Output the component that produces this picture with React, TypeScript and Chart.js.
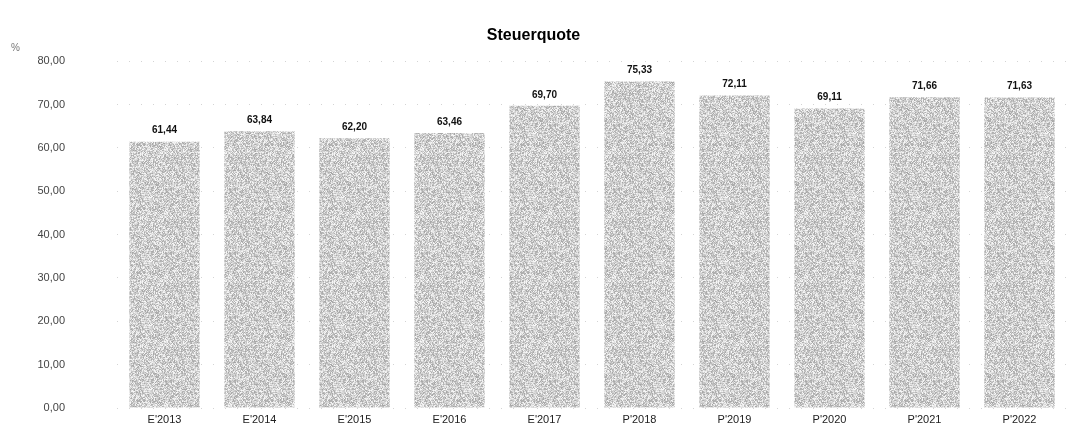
import { useEffect, useRef } from "react";
import { Chart, registerables } from "chart.js";

Chart.register(...registerables);

const years = ["E'2013", "E'2014", "E'2015", "E'2016", "E'2017", "P'2018", "P'2019", "P'2020", "P'2021", "P'2022"];
const quote = [61.44, 63.84, 62.2, 63.46, 69.7, 75.33, 72.11, 69.11, 71.66, 71.63];

const FONT = "Arial, 'Liberation Sans', sans-serif";
const fmt = (v: number) => v.toFixed(2).replace(".", ",");

// grainy grey fill like the scanned original (deterministic hash, not data)
function makeGrain(): CanvasPattern | string {
  const c = document.createElement("canvas");
  c.width = 64;
  c.height = 64;
  const g = c.getContext("2d");
  if (!g) return "#c2c2c2";
  const img = g.createImageData(64, 64);
  for (let i = 0; i < 64 * 64; i++) {
    let h = (i * 2654435761) >>> 0;
    h ^= h >>> 15;
    h = Math.imul(h, 2246822519) >>> 0;
    h ^= h >>> 13;
    const t = (h & 255) / 255;
    const v = Math.round(165 + t * 85);
    img.data[i * 4] = v;
    img.data[i * 4 + 1] = v;
    img.data[i * 4 + 2] = v;
    img.data[i * 4 + 3] = 255;
  }
  g.putImageData(img, 0, 0);
  return g.createPattern(c, "repeat") ?? "#c2c2c2";
}

const barLabels = {
  id: "barLabels",
  afterDatasetsDraw(chart: Chart) {
    const ctx = chart.ctx;
    const meta = chart.getDatasetMeta(0);
    ctx.save();
    ctx.font = `bold 10px ${FONT}`;
    ctx.fillStyle = "#111";
    ctx.textAlign = "center";
    ctx.textBaseline = "bottom";
    meta.data.forEach((bar: any, i: number) => {
      ctx.fillText(fmt(quote[i]), bar.x, bar.y - 6);
    });
    ctx.font = `10px ${FONT}`;
    ctx.fillStyle = "#777";
    ctx.textAlign = "left";
    ctx.fillText("%", 11, 53);
    ctx.restore();
  },
};

export default function App() {
  const canvasRef = useRef<HTMLCanvasElement | null>(null);

  useEffect(() => {
    const canvas = canvasRef.current;
    if (!canvas) return;
    const chart = new Chart(canvas, {
      type: "bar",
      data: {
        labels: years,
        datasets: [
          {
            data: quote,
            backgroundColor: makeGrain() as any,
            borderWidth: 0,
            categoryPercentage: 0.74,
            barPercentage: 1,
          },
        ],
      },
      options: {
        animation: false,
        responsive: false,
        layout: { padding: { left: 0, right: 9, top: 0, bottom: 0 } },
        plugins: {
          legend: { display: false },
          tooltip: { enabled: false },
          title: {
            display: true,
            text: "Steuerquote",
            color: "#000",
            font: { size: 16, weight: "bold", family: FONT },
            padding: { top: 26, bottom: 16 },
          },
        },
        scales: {
          x: {
            grid: { display: false, drawTicks: false, tickLength: 0 },
            border: { display: false },
            afterFit: (s: any) => {
              s.height = 25;
            },
            ticks: {
              color: "#222",
              font: { size: 11, family: FONT },
              padding: 5,
              maxRotation: 0,
            },
          },
          y: {
            min: 0,
            max: 80,
            afterFit: (s: any) => {
              s.width = 117;
              // the big tick padding would otherwise be reserved above and below the plot
              s.paddingTop = 7;
              s.paddingBottom = 7;
            },
            ticks: {
              stepSize: 10,
              color: "#444",
              padding: 52,
              font: { size: 11, family: FONT },
              callback: (v: any) => fmt(Number(v)),
            },
            grid: {
              color: "#d4d4d4",
              lineWidth: 1,
              drawTicks: false,
            },
            border: { display: false, dash: [1, 11] },
          },
        },
      },
      plugins: [barLabels],
    });
    return () => chart.destroy();
  }, []);

  return (
    <div style={{ margin: -8, width: 1076, height: 433, background: "#fff" }}>
      <canvas ref={canvasRef} width={1076} height={433} style={{ display: "block", width: 1076, height: 433 }} />
    </div>
  );
}
